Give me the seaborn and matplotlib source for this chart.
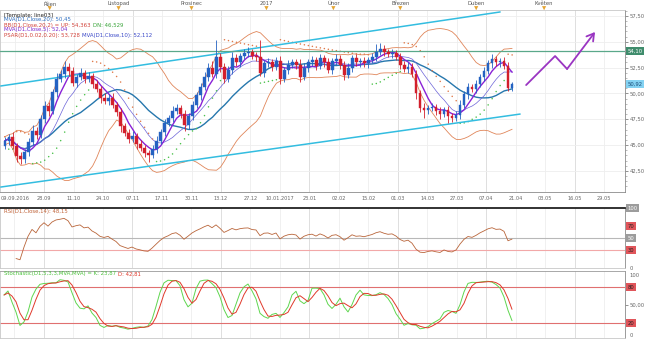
import numpy as np
import pandas as pd
import matplotlib
matplotlib.use("Agg")
import matplotlib.pyplot as plt
import seaborn as sns

# ---------------- data ----------------
closes = [45.4, 45.8, 44.9, 43.9, 43.6, 44.3, 45.3, 46.4, 46.0, 47.5,
          48.8, 48.3, 50.1, 51.4, 51.9, 52.6, 52.2, 51.0, 51.6, 52.0,
          51.4, 51.7, 50.9, 50.4, 49.6, 49.3, 49.6, 48.9, 48.2, 46.8,
          46.2, 45.6, 45.9, 45.1, 44.7, 44.2, 44.0, 44.6, 45.4, 46.3,
          47.1, 47.6, 48.3, 48.6, 48.0, 46.9, 47.8, 48.9, 49.8, 50.6,
          51.6, 52.5, 51.9, 53.5, 52.6, 51.4, 52.3, 53.4, 53.0, 53.6,
          53.9, 54.0, 53.6, 53.5, 52.0, 52.9, 53.0, 52.6, 53.1, 51.4,
          52.3, 52.8, 53.0, 52.8, 51.6, 52.5, 53.0, 53.2, 52.7, 53.4,
          53.0, 52.3, 53.1, 53.3, 52.8, 51.8, 52.5, 53.4, 53.0, 53.1,
          52.9, 53.2, 53.5, 54.0, 54.3, 54.0, 53.8, 53.9, 53.5, 52.8,
          52.4, 52.6, 51.9, 50.0, 48.6, 48.4, 48.6, 48.7, 48.3, 48.0,
          48.4, 47.8, 47.6, 47.9, 48.9, 49.9, 50.6, 50.4, 50.9, 51.6,
          52.2, 52.9, 53.3, 53.0, 53.1, 52.7, 50.5, 50.92]
up_wick = [0.4, 0.3, 0.5, 0.3, 0.4, 0.3, 0.4, 0.5, 0.3, 0.4,
           0.5, 0.4, 0.3, 0.6, 0.4, 0.5, 0.3, 0.4, 0.3, 0.5,
           0.3, 0.4, 0.3, 0.4, 0.3, 0.4, 0.3, 0.4, 0.3, 0.4,
           0.3, 0.4, 0.5, 0.3, 0.4, 0.3, 0.3, 0.4, 0.5, 0.3,
           0.4, 0.3, 0.5, 0.4, 0.3, 0.4, 0.3, 0.4, 0.3, 0.4,
           0.5, 0.4, 0.6, 1.7, 0.4, 0.3, 0.4, 0.6, 0.4, 0.3,
           0.4, 0.5, 0.3, 0.4, 1.7, 0.3, 0.4, 0.3, 0.4, 0.5,
           0.3, 0.4, 0.3, 0.3, 0.5, 0.4, 0.3, 0.4, 0.3, 0.4,
           0.3, 0.4, 0.3, 0.5, 0.4, 0.3, 0.4, 0.3, 0.4, 0.3,
           0.4, 0.3, 0.4, 0.8, 0.6, 0.4, 0.3, 0.4, 0.3, 0.4,
           0.3, 0.4, 0.3, 0.4, 0.3, 0.5, 0.3, 0.4, 0.3, 0.4,
           0.3, 0.4, 0.3, 0.4, 0.5, 0.3, 0.4, 0.3, 0.4, 0.3,
           0.4, 0.3, 0.5, 0.3, 0.3, 0.4, 0.3, 0.2]
down_wick = [0.3, 0.4, 0.3, 0.5, 0.4, 0.3, 0.4, 0.3, 0.4, 0.3,
             0.4, 0.5, 0.3, 0.4, 0.3, 0.4, 0.5, 0.3, 0.4, 0.3,
             0.4, 0.3, 0.4, 0.3, 0.5, 0.3, 0.4, 0.3, 0.4, 0.5,
             0.3, 0.4, 0.3, 0.5, 0.3, 0.4, 0.6, 0.3, 0.4, 0.3,
             0.4, 0.3, 0.4, 0.3, 0.4, 0.5, 0.3, 0.4, 0.3, 0.4,
             0.3, 0.4, 0.3, 0.4, 0.5, 0.4, 0.3, 0.4, 0.3, 0.4,
             0.3, 0.4, 0.3, 0.4, 0.3, 0.4, 0.3, 0.4, 0.3, 0.5,
             0.3, 0.4, 0.3, 0.4, 0.5, 0.3, 0.4, 0.3, 0.4, 0.3,
             0.4, 0.3, 0.4, 0.3, 0.4, 0.5, 0.3, 0.4, 0.3, 0.4,
             0.3, 0.4, 0.3, 0.4, 0.3, 0.4, 0.3, 0.4, 0.3, 0.4,
             0.3, 0.4, 0.3, 0.5, 0.4, 0.8, 0.4, 0.3, 0.4, 0.5,
             0.3, 0.7, 0.4, 0.3, 0.4, 0.3, 0.4, 0.3, 0.4, 0.3,
             0.4, 0.3, 0.4, 0.3, 0.4, 0.3, 0.3, 0.3]
first_open = 44.9

date_labels = ["09.09.2016", "28.09", "11.10", "24.10", "07.11", "17.11", "30.11",
               "13.12", "27.12", "10.01.2017", "23.01", "02.02", "15.02", "01.03",
               "14.03", "27.03", "07.04", "21.04", "03.05", "16.05", "29.05"]
month_labels = ["Říjen", "Listopad", "Prosinec", "2017", "Únor", "Březen", "Duben", "Květen"]
price_ticks = [42.5, 45.0, 47.5, 50.0, 52.5, 55.0, 57.5]
resistance_level = 54.10
upper_channel = [(-1.0, 50.72), (124.0, 57.89)]
lower_channel = [(-1.0, 40.93), (129.0, 48.00)]
forecast_path = [(130.5, 50.81), (137.75, 53.62), (140.75, 52.37), (147.75, 55.95)]

# ---------------- indicators ----------------
c = pd.Series(closes, dtype=float)
o = c.shift(1).fillna(first_open)
h = pd.concat([o, c], axis=1).max(axis=1) + pd.Series(up_wick)
l = pd.concat([o, c], axis=1).min(axis=1) - pd.Series(down_wick)
x = np.arange(len(c), dtype=float)

sma5 = c.rolling(5, min_periods=1).mean()
sma10 = c.rolling(10, min_periods=1).mean()
sma20 = c.rolling(20, min_periods=1).mean()
std20 = c.rolling(20, min_periods=2).std(ddof=0).bfill()
bb_up = sma20 + 2 * std20
bb_dn = sma20 - 2 * std20


def parabolic_sar(high, low, step=0.02, cap=0.2):
    high = np.asarray(high); low = np.asarray(low)
    n = len(high)
    sar_out = np.zeros(n); bull_out = np.zeros(n, dtype=bool)
    bull = False
    af = step
    ep = low[0]
    sar = high[0]
    sar_out[0] = sar
    for i in range(1, n):
        sar = sar + af * (ep - sar)
        if bull:
            sar = min(sar, low[i - 1], low[max(i - 2, 0)])
            if low[i] < sar:
                bull, sar, ep, af = False, ep, low[i], step
            elif high[i] > ep:
                ep, af = high[i], min(af + step, cap)
        else:
            sar = max(sar, high[i - 1], high[max(i - 2, 0)])
            if high[i] > sar:
                bull, sar, ep, af = True, ep, high[i], step
            elif low[i] < ep:
                ep, af = low[i], min(af + step, cap)
        sar_out[i] = sar
        bull_out[i] = bull
    return sar_out, bull_out


sar, sar_bull = parabolic_sar(h, l)

# RSI with averaged start-up so the first bars are not pinned at 0/100
delta = c.diff()
gain = delta.clip(lower=0).ewm(alpha=1 / 14, adjust=True, min_periods=3).mean()
loss = (-delta.clip(upper=0)).ewm(alpha=1 / 14, adjust=True, min_periods=3).mean()
rsi = 100 - 100 / (1 + gain / loss)

ll5 = l.rolling(5, min_periods=1).min()
hh5 = h.rolling(5, min_periods=1).max()
fast_k = 100 * (c - ll5) / (hh5 - ll5)
stoch_k = fast_k.rolling(3, min_periods=1).mean()
stoch_d = stoch_k.rolling(3, min_periods=1).mean()


def fmt(v, d=2):
    return f"{v:.{d}f}".replace(".", ",")


# ---------------- layout ----------------
sns.set_style("white")
plt.rcParams["font.family"] = ["DejaVu Sans"]
W, H = 649, 339
fig = plt.figure(figsize=(W / 100, H / 100), dpi=100)
fig.patch.set_facecolor("white")


def box(top, bottom, right=625):
    return [0, 1 - bottom / H, right / W, (bottom - top) / H]


ax_top = fig.add_axes(box(0, 10))
ax = fig.add_axes(box(10, 192))
ax_rsi = fig.add_axes(box(208, 268))
ax_st = fig.add_axes(box(271, 338))

XMIN, XMAX = -1.0, 155.25
date_pos = 2.5 + 7.375 * np.arange(len(date_labels))
month_px = [49, 118, 191, 266, 333, 400, 476, 544]
month_pos = [p / 4 - 1 for p in month_px]
minor_pos = np.arange(2.5 - 7.375 / 2, XMAX, 7.375 / 2)

grid_light = "#eeeeee"
grid_dark = "#d9d9d9"
for a in (ax, ax_rsi, ax_st):
    a.set_xlim(XMIN, XMAX)
    a.set_facecolor("white")
    for k, p in enumerate(date_pos):
        a.axvline(p, color=grid_dark if k % 3 == 1 else grid_light, lw=0.6, zorder=0)
    for s in a.spines.values():
        s.set_color("#c8c8c8")
        s.set_linewidth(0.6)
    a.spines["right"].set_color("#8a8a8a")
    a.yaxis.tick_right()
    a.tick_params(axis="y", labelsize=3.8, colors="#666666", length=2, width=0.5,
                  direction="out", pad=1.5)

# ---------------- month strip ----------------
ax_top.set_xlim(XMIN, XMAX)
ax_top.set_ylim(0, 1)
for s in ("left", "top", "right"):
    ax_top.spines[s].set_visible(False)
ax_top.spines["bottom"].set_color("#9a9a9a")
ax_top.spines["bottom"].set_linewidth(0.6)
ax_top.set_yticks([])
ax_top.set_xticks(date_pos)
ax_top.set_xticks(minor_pos, minor=True)
ax_top.tick_params(axis="x", which="both", direction="in", length=2.5, width=0.4,
                   colors="#888888", labelbottom=False)
for lab, p in zip(month_labels, month_pos):
    ax_top.text(p, 0.62, lab, fontsize=3.8, color="#555555", ha="center", va="center")
sns.scatterplot(x=month_pos, y=[0.18] * len(month_pos), ax=ax_top, marker="v", s=9,
                color="#e5a533", edgecolor="none", legend=False, clip_on=False, zorder=5)
ax_top.set_xlabel("")

# ---------------- main price panel ----------------
ax.set_ylim(40.45, 58.08)
ax.set_yticks(price_ticks)
ax.set_yticks(np.arange(41.0, 58.01, 0.5), minor=True)
ax.tick_params(axis="y", which="minor", length=1.2, width=0.4, colors="#888888")
ax.set_yticklabels([fmt(v) for v in price_ticks])
for v in price_ticks:
    ax.axhline(v, color=grid_light, lw=0.6, zorder=0)

ax.set_xticks(date_pos)
ax.set_xticks(minor_pos, minor=True)
ax.set_xticklabels(date_labels)
ax.tick_params(axis="x", which="major", labelsize=3.6, colors="#666666", length=3,
               width=0.4, direction="in", pad=3)
ax.tick_params(axis="x", which="minor", length=1.8, width=0.4, direction="in",
               colors="#888888")
ax.spines["bottom"].set_color("#8a8a8a")

# Bollinger bands and moving averages
sns.lineplot(x=x, y=bb_up.values, ax=ax, color="#e0865a", lw=0.6, zorder=2)
sns.lineplot(x=x, y=bb_dn.values, ax=ax, color="#e0865a", lw=0.6, zorder=2)
sns.lineplot(x=x, y=sma20.values, ax=ax, color="#2677ad", lw=1.0, zorder=3)
sns.lineplot(x=x, y=sma10.values, ax=ax, color="#6c63d8", lw=0.5, zorder=3)
sns.lineplot(x=x, y=sma5.values, ax=ax, color="#8a22d6", lw=1.0, zorder=4)

# Parabolic SAR dots
sar_df = pd.DataFrame({"x": x, "sar": sar, "bull": sar_bull})
sns.scatterplot(data=sar_df[sar_df.bull], x="x", y="sar", ax=ax, s=1.2,
                color="#4cc24c", edgecolor="none", legend=False, zorder=3)
sns.scatterplot(data=sar_df[~sar_df.bull], x="x", y="sar", ax=ax, s=1.2,
                color="#e07a4a", edgecolor="none", legend=False, zorder=3)

# candlesticks
up = c >= o
col = np.where(up, "#2462c2", "#d21f2c")
ax.vlines(x, l, h, colors=col, lw=0.6, zorder=5)
ax.bar(x, (c - o).abs().clip(lower=0.06), bottom=np.minimum(o, c), width=0.62,
       color=col, edgecolor=col, linewidth=0.3, zorder=6)

# channel, resistance and projected path
ax.plot(*zip(*upper_channel), color="#33bde0", lw=1.1, zorder=4)
ax.plot(*zip(*lower_channel), color="#33bde0", lw=1.1, zorder=4)
ax.axhline(resistance_level, color="#5aa88a", lw=0.9, zorder=4)
fx_, fy_ = zip(*forecast_path)
ax.plot(fx_[:-1], fy_[:-1], color="#9a35c2", lw=1.3, zorder=6, solid_capstyle="round")
ax.annotate("", xy=forecast_path[-1], xytext=forecast_path[-2],
            arrowprops=dict(arrowstyle="->,head_length=0.5,head_width=0.3",
                            color="#9a35c2", lw=1.3, shrinkA=0, shrinkB=0), zorder=6)
ax.set_xlabel(""); ax.set_ylabel("")


def price_tag(axis, value, text, face, fg):
    axis.annotate(text, xy=(1.0, value), xycoords=("axes fraction", "data"),
                  xytext=(2, 0), textcoords="offset points", fontsize=3.8,
                  color=fg, va="center", ha="left", annotation_clip=False,
                  bbox=dict(boxstyle="square,pad=0.25", fc=face, ec="none"), zorder=10)


price_tag(ax, resistance_level, fmt(resistance_level), "#3f8c6c", "white")
price_tag(ax, c.iloc[-1], fmt(c.iloc[-1]), "#84d2f2", "#1b4f7a")

# ---------------- RSI panel ----------------
ax_rsi.set_ylim(0, 100)
ax_rsi.set_yticks([])
ax_rsi.set_xticks([])
ax_rsi.spines["top"].set_color("#222222")
ax_rsi.spines["top"].set_linewidth(1.3)
ax_rsi.axhline(50, color="#b8b8b8", lw=0.8, zorder=1)
ax_rsi.axhline(30, color="#f2a8a8", lw=0.8, zorder=1)
sns.lineplot(x=x, y=rsi.values, ax=ax_rsi, color="#b9653a", lw=0.6, zorder=3)
ax_rsi.set_xlabel(""); ax_rsi.set_ylabel("")
price_tag(ax_rsi, 100, "100", "#9c9c9c", "white")
price_tag(ax_rsi, 70, "70", "#e0555a", "#222222")
price_tag(ax_rsi, 50, "50", "#9c9c9c", "white")
price_tag(ax_rsi, 30, "30", "#e0555a", "#222222")
ax_rsi.annotate("0", xy=(1.0, 0), xycoords=("axes fraction", "data"), xytext=(3, 0),
                textcoords="offset points", fontsize=3.8, color="#666666", va="center",
                annotation_clip=False)

# ---------------- Stochastic panel ----------------
ax_st.set_ylim(-5, 106.7)
ax_st.set_xticks([])
ax_st.set_yticks([50])
ax_st.set_yticklabels(["50,00"])
ax_st.spines["top"].set_color("#9a9a9a")
ax_st.axhline(80, color="#e07070", lw=0.8, zorder=1)
ax_st.axhline(20, color="#e07070", lw=0.8, zorder=1)
sns.lineplot(x=x, y=stoch_k.values, ax=ax_st, color="#5fd64f", lw=0.7, zorder=3)
sns.lineplot(x=x, y=stoch_d.values, ax=ax_st, color="#e0392b", lw=0.7, zorder=3)
ax_st.set_xlabel(""); ax_st.set_ylabel("")
for v, t in ((100, "100"), (0, "0")):
    ax_st.annotate(t, xy=(1.0, v), xycoords=("axes fraction", "data"), xytext=(3, 0),
                   textcoords="offset points", fontsize=3.8, color="#666666",
                   va="center", annotation_clip=False)
price_tag(ax_st, 80, "80", "#e0555a", "#222222")
price_tag(ax_st, 20, "20", "#e0555a", "#222222")

# ---------------- indicator captions ----------------
renderer = fig.canvas.get_renderer()


def caption(px, py, parts, size=3.9):
    xf = px / W
    for text, color in parts:
        t = fig.text(xf, 1 - py / H, text, fontsize=size, color=color, va="center",
                     ha="left")
        bb = t.get_window_extent(renderer=renderer)
        xf = bb.x1 / W + 2 / W


caption(4, 15, [("[Template: line03]", "#222222")])
caption(4, 20, [(f"MVA(D1,Close,20): {fmt(sma20.iloc[-1])}", "#2f6fc0")])
caption(4, 25, [(f"BB(D1,Close,20,2) = UP: {fmt(bb_up.iloc[-1], 3)}", "#d2433a"),
                (f"DN: {fmt(bb_dn.iloc[-1], 3)}", "#3aa43a")])
caption(4, 30, [(f"MVA(D1,Close,5): {fmt(sma5.iloc[-1])}", "#7d2ad0")])
caption(4, 35, [(f"PSAR(D1,0.02,0.20): {fmt(sar[-1], 3)}", "#d2433a"),
                (f"MVA(D1,Close,10): {fmt(sma10.iloc[-1], 3)}", "#3a48c8")])
caption(4, 212, [(f"RSI(D1,Close,14): {fmt(rsi.iloc[-1])}", "#c0643a")])
caption(4, 274, [("Stochastic(D1,5,3,3,MVA,MVA) = K: " + fmt(stoch_k.iloc[-1]), "#4cc23c"),
                 ("D: " + fmt(stoch_d.iloc[-1]), "#e0392b")])

fig.savefig("out.png", dpi=100, facecolor="white")
